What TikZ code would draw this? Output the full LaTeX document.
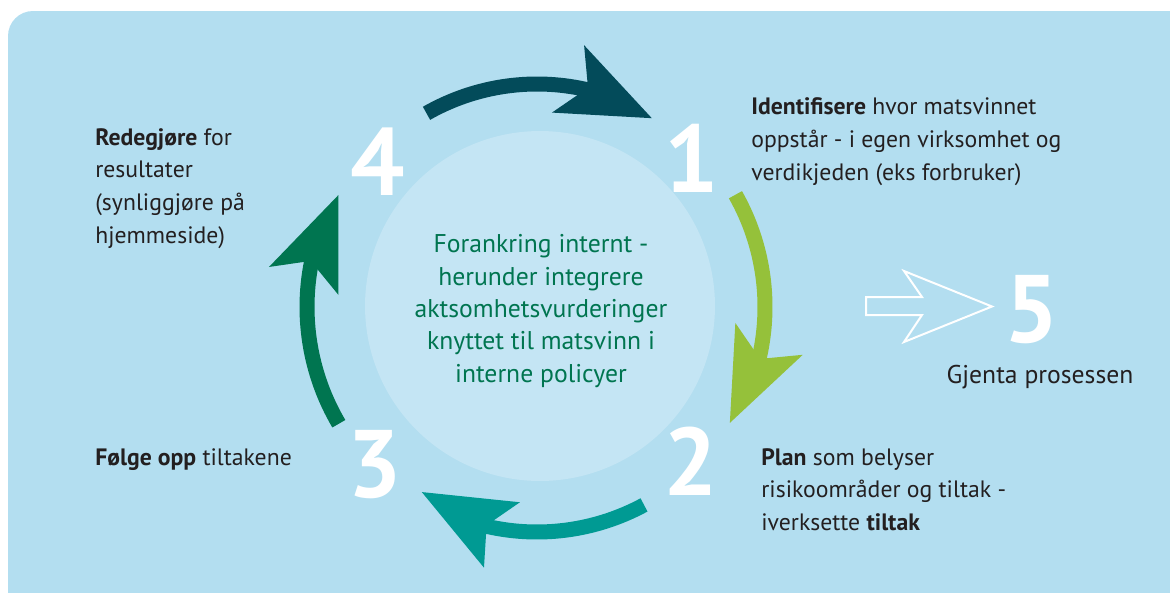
\documentclass[tikz,border=0pt]{standalone}
\usepackage{fontspec}
\setmainfont{PT Sans}
\usepackage{tikz}
\definecolor{bgblue}{HTML}{B3DEF0}
\definecolor{discblue}{HTML}{C4E5F4}
\definecolor{cpetrol}{HTML}{034B5A}
\definecolor{clime}{HTML}{95C13A}
\definecolor{cteal}{HTML}{009A93}
\definecolor{cgreen}{HTML}{007550}
\definecolor{ctext}{HTML}{231F20}
\tikzset{
  steptext/.style={anchor=base west, align=left, inner sep=0pt, text=ctext,
    font=\fontsize{13.5}{18.5}\selectfont},
  stepnum/.style={anchor=base, inner sep=0pt, text=white,
    font=\fontsize{54.6}{60}\selectfont\bfseries},
  cycleshaft/.style={line width=0.3cm},
}

\begin{document}
\begin{tikzpicture}[x=0.02cm, y=0.02cm]
  \useasboundingbox (0,0) rectangle (1170,-592);
  \clip (0,0) rectangle (1170,-592);
  \fill[bgblue, rounded corners=0.5cm] (8,-11) rectangle (1220,-640);
  \node[circle, fill=discblue, inner sep=0pt, minimum size=7cm] (core) at (540,-306) {};
  \begin{scope}[shift={(537,-307)}]
    \draw[cpetrol, cycleshaft] (119.7:223) arc[start angle=119.7, end angle=76, radius=223];
    \fill[cpetrol] (79.8:266) -- (58.7:221) -- (85.6:195) -- (76.9:225) -- cycle;
    \draw[clime, cycleshaft] (29.5:228) arc[start angle=29.5, end angle=-14, radius=228];
    \fill[clime] (-10.2:270) -- (-31:225) -- (-4.6:199) -- (-13.1:229) -- cycle;
    \draw[cteal, cycleshaft] (-61.6:225) arc[start angle=-61.6, end angle=-104, radius=225];
    \fill[cteal] (-101.5:266) -- (-121.9:218) -- (-95:196) -- (-103:224) -- cycle;
    \draw[cgreen, cycleshaft] (210.5:230) arc[start angle=210.5, end angle=167.5, radius=230];
    \fill[cgreen] (171.5:271) -- (150.6:228) -- (176.5:199) -- (168.5:231) -- cycle;
  \end{scope}
  \node[stepnum] (n1) at (692,-192) {1};
  \node[stepnum] (n2) at (691,-495) {2};
  \node[stepnum] (n3) at (375,-497) {3};
  \node[stepnum] (n4) at (378,-195) {4};
  \node[stepnum] (n5) at (1031.5,-342) {5};
  \node[steptext, anchor=base, align=center, text=cgreen, font=\fontsize{14.6}{18.4}\selectfont]
    (anchoring) at (541,-382)
    {Forankring internt -\\herunder integrere\\aktsomhetsvurderinger\\knyttet til matsvinn i\\interne policyer};
  \node[steptext] (identify) at (751,-180)
    {\textbf{Identifisere} hvor matsvinnet\\oppstår - i egen virksomhet og\\verdikjeden (eks forbruker)};
  \node[steptext] (plan) at (761,-530)
    {\textbf{Plan} som belyser\\risikoområder og tiltak -\\iverksette \textbf{tiltak}};
  \node[steptext] (follow) at (95,-465) {\textbf{Følge opp} tiltakene};
  \node[steptext] (report) at (95,-243)
    {\textbf{Redegjøre} for\\resultater\\(synliggjøre på\\hjemmeside)};
  \draw[white, line width=0.04cm] (866,-297) -- (922,-297) -- (904,-271) -- (992,-306.5)
    -- (904,-342) -- (922,-315) -- (866,-315) -- cycle;
  \node[steptext, anchor=base, font=\fontsize{14.6}{18.4}\selectfont] (again) at (1040,-383)
    {Gjenta prosessen};
\end{tikzpicture}
\end{document}
